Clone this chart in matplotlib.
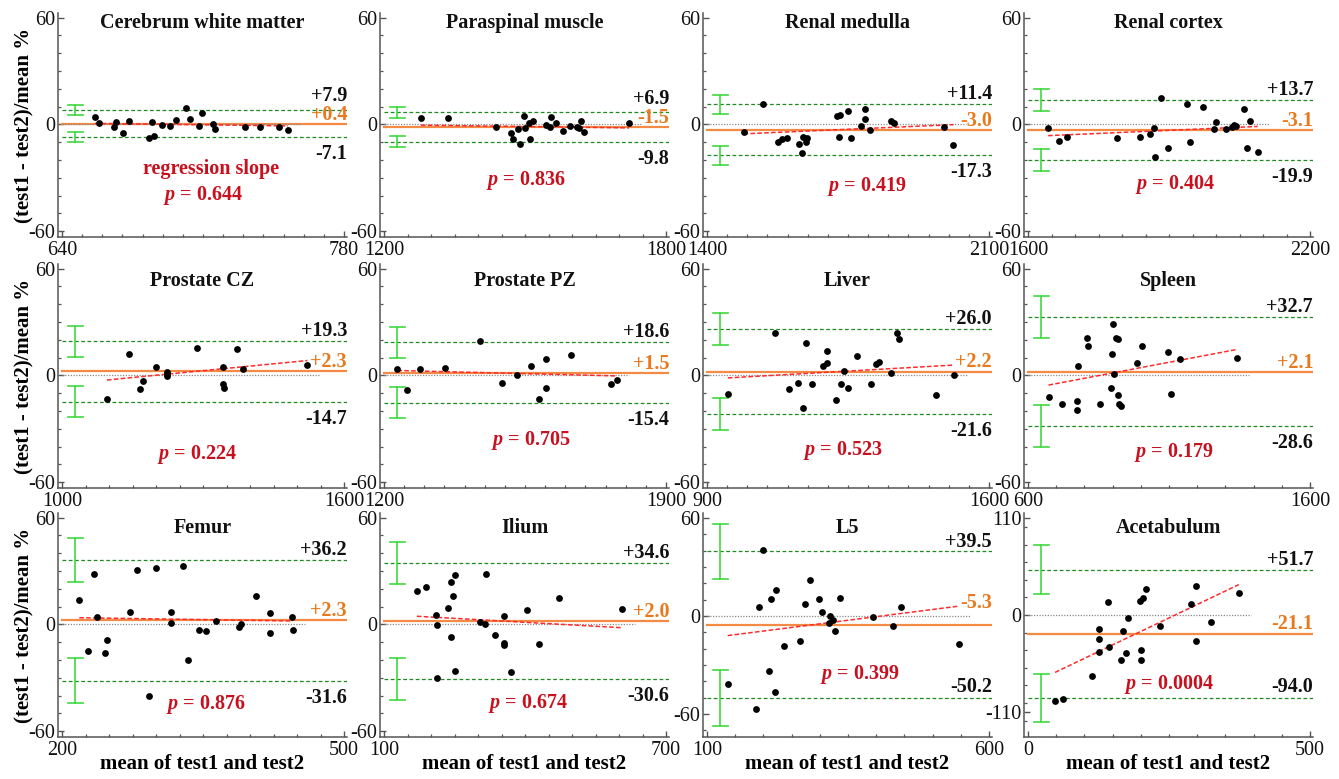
import numpy as np
import matplotlib
matplotlib.use("Agg")
import matplotlib.pyplot as plt
from matplotlib.transforms import blended_transform_factory
from matplotlib.ticker import FixedLocator, MultipleLocator

plt.rcParams['font.family'] = ['Liberation Serif', 'DejaVu Serif']
plt.rcParams['mathtext.fontset'] = 'custom'
plt.rcParams['mathtext.it'] = 'Liberation Serif:italic:bold'
plt.rcParams['mathtext.rm'] = 'Liberation Serif:bold'
plt.rcParams['mathtext.bf'] = 'Liberation Serif:bold'
plt.rcParams['axes.unicode_minus'] = False

# ---------------- data ----------------
titles = ["Cerebrum white matter", "Paraspinal muscle", "Renal medulla", "Renal cortex",
          "Prostate CZ", "Prostate PZ", "Liver", "Spleen",
          "Femur", "Ilium", "L5", "Acetabulum"]
x_ranges = [(640, 780), (1200, 1800), (1400, 2100), (1600, 2200),
            (1000, 1600), (1200, 1900), (900, 1600), (600, 1600),
            (200, 500), (100, 700), (100, 600), (0, 500)]
x_minor_step = [10, 50, 50, 50, 50, 50, 50, 100, 25, 50, 50, 50]
y_major = [60, 60, 60, 60, 60, 60, 60, 60, 60, 60, 60, 110]
y_minor_step = [10] * 11 + [20]
upper_loa = [7.9, 6.9, 11.4, 13.7, 19.3, 18.6, 26.0, 32.7, 36.2, 34.6, 39.5, 51.7]
bias = [0.4, -1.5, -3.0, -3.1, 2.3, 1.5, 2.2, 2.1, 2.3, 2.0, -5.3, -21.1]
lower_loa = [-7.1, -9.8, -17.3, -19.9, -14.7, -15.4, -21.6, -28.6, -31.6, -30.6, -50.2, -94.0]
ci_half = [2.8, 3.1, 5.4, 6.3, 8.7, 8.8, 8.9, 11.7, 12.6, 12.0, 17.0, 27.5]
p_values = ["0.644", "0.836", "0.419", "0.404", "0.224", "0.705", "0.523", "0.179",
            "0.876", "0.674", "0.399", "0.0004"]

cerebrum_x = [656.3, 658.5, 666.0, 666.8, 670.5, 673.2, 683.0, 684.8, 685.7, 689.7, 693.5,
              696.8, 701.5, 703.5, 708.2, 709.3, 715.2, 716.0, 731.0, 738.5, 747.7, 752.2]
cerebrum_y = [4.4, 1.0, -1.6, 1.4, -5.0, 2.2, -7.8, 1.4, -6.5, -0.1, -0.85,
              2.5, 9.5, 3.1, -0.85, 6.3, 0.3, -2.5, -1.5, -1.5, -1.6, -3.1]

paraspinal_x = [1278.6, 1337.1, 1437.9, 1470.0, 1474.3, 1484.3, 1489.3, 1497.9, 1500.0, 1508.6,
                1510.7, 1516.4, 1544.3, 1553.6, 1555.7, 1565.7, 1580.7, 1596.5, 1610.7, 1615.7,
                1620.0, 1625.0, 1721.4]
paraspinal_y = [3.5, 3.5, -1.2, -5.0, -8.2, -2.7, -11.0, 4.8, -2.2, 0.7,
                -8.0, 2.2, -0.5, -1.2, 4.0, 0.9, -3.9, -0.7, -1.2, -1.8,
                2.2, -4.4, 0.7]

medulla_x = [1490.8, 1539.2, 1575.8, 1585.0, 1597.5, 1629.2, 1635.0, 1639.2, 1645.0, 1647.5,
             1722.5, 1730.8, 1728.3, 1750.8, 1757.5, 1782.5, 1793.3, 1793.3, 1805.8, 1855.8,
             1863.3, 1988.3, 2011.7]
medulla_y = [-4.4, 11.4, -9.7, -8.4, -7.8, -11.2, -15.9, -7.2, -9.7, -7.8,
             4.8, 5.4, -7.2, 7.8, -7.4, -0.85, 8.55, 3.1, -3.1, 2.0,
             1.0, -1.4, -11.5]

cortex_x = [1642.9, 1665.7, 1682.9, 1788.6, 1837.9, 1858.6, 1867.9, 1869.3, 1882.2, 1897.9,
            1937.9, 1945.7, 1971.4, 1995.0, 2000.0, 2021.5, 2033.6, 2037.9, 2041.5, 2058.6,
            2066.4, 2071.4, 2088.6]
cortex_y = [-2.2, -9.5, -7.0, -7.8, -6.9, -5.4, -1.8, -18.1, 14.6, -13.4,
            11.4, -10.0, 9.7, -2.5, 1.2, -2.5, -1.4, -0.1, -0.85, 8.55,
            -13.0, 2.2, -15.3]

cz_x = [1095.7, 1143.6, 1166.4, 1172.1, 1200.7, 1224.3, 1224.3, 1224.3, 1286.4, 1343.6,
        1343.6, 1345.0, 1372.9, 1385.0, 1522.2]
cz_y = [-13.4, 11.9, -7.8, -2.9, 5.0, 2.2, 0.85, -0.5, 15.3, 5.0,
        -4.8, -7.0, 14.9, 3.85, 5.9]

pz_x = [1233.3, 1256.7, 1289.2, 1352.5, 1437.5, 1493.3, 1529.2, 1565.0, 1585.0, 1601.7,
        1602.5, 1665.0, 1764.2, 1778.3]
pz_y = [3.7, -8.2, 3.5, 4.0, 19.1, -4.0, 0.0, 5.5, -13.4, -6.9,
        9.5, 11.7, -5.0, -2.5]

liver_x = [951.7, 1068.3, 1104.2, 1126.7, 1137.5, 1145.0, 1160.0, 1187.5, 1197.5, 1197.5,
           1220.8, 1232.5, 1239.2, 1249.2, 1272.5, 1307.5, 1320.0, 1326.7, 1357.5, 1371.7,
           1375.8, 1467.5, 1514.2]
liver_y = [-10.6, 23.8, -7.4, -4.0, -18.5, 18.1, -4.6, 5.35, 6.7, 13.8,
           -14.0, -5.0, 2.35, -7.2, 10.8, -5.0, 6.3, 7.4, 1.4, 23.8,
           20.75, -11.0, 0.0]

spleen_x = [672.8, 721.1, 772.9, 772.9, 776.4, 810.5, 812.9, 855.2, 894.0, 897.6,
            900.0, 905.8, 911.7, 917.6, 917.6, 923.5, 929.3, 985.8, 1005.8, 1096.4,
            1105.8, 1138.8, 1342.4]
spleen_y = [-11.9, -16.1, -14.2, -19.6, 5.5, 21.1, 16.6, -16.1, -7.2, 12.1,
            29.0, 0.85, 21.1, 20.75, -11.2, -16.1, -17.2, 6.7, 16.4, 13.4,
            -10.6, 9.5, 10.0]

femur_x = [218.4, 227.7, 233.7, 237.6, 245.8, 247.9, 272.7, 279.8, 292.3, 300.4,
           316.4, 316.4, 328.5, 334.2, 345.9, 353.3, 363.6, 388.8, 389.9, 405.9,
           421.1, 421.1, 444.9, 445.3]
femur_y = [13.6, -14.9, 28.5, 4.2, -15.9, -8.9, 6.9, 30.7, -40.3, 31.6,
           6.9, 0.66, 32.6, -19.8, -3.1, -3.7, 2.0, -1.2, 0.1, 16.2,
           6.5, -4.6, 4.4, -3.1]

ilium_x = [170.0, 190.0, 210.0, 212.1, 212.9, 237.2, 243.6, 243.6, 247.2, 250.7,
           250.7, 303.6, 314.3, 317.9, 336.4, 354.3, 355.7, 355.7, 370.0, 403.6,
           430.0, 472.9, 607.2]
ilium_y = [19.0, 21.2, 5.3, -0.6, -30.0, 9.2, -6.9, 24.0, 15.8, 27.8,
           -26.1, 1.3, 0.0, 28.2, -6.0, -11.3, 4.7, -10.7, -27.0, 8.3,
           -10.9, 14.6, 8.6]

l5_x = [136.7, 187.6, 192.3, 198.8, 210.0, 214.2, 220.7, 222.5, 236.1, 265.7,
        274.5, 283.4, 298.2, 304.1, 316.0, 318.9, 323.7, 326.6, 335.5, 394.1,
        429.6, 443.2, 546.7]
l5_y = [-41.8, -57.2, 5.5, 40.2, -33.9, 10.6, -46.5, 16.1, -18.2, -15.1,
        7.6, 22.2, 10.4, 2.2, -4.3, 0.0, -2.4, -9.4, 11.2, -0.4,
        -5.9, 5.3, -16.9]

acet_x = [48.0, 62.4, 113.4, 126.0, 126.0, 126.0, 141.0, 144.0, 165.0, 169.2,
          174.0, 177.0, 198.0, 201.0, 201.0, 204.0, 210.0, 234.0, 289.2, 297.0,
          297.0, 324.0, 373.8]
acet_y = [-97.7, -95.1, -69.3, -16.3, -27.3, -41.7, 15.2, -36.0, -51.5, -18.6,
          -43.2, -3.8, 16.3, -39.8, -50.8, 19.3, 29.9, -12.1, 12.5, -29.9,
          32.6, -8.0, 25.0]

points_x = [cerebrum_x, paraspinal_x, medulla_x, cortex_x, cz_x, pz_x, liver_x, spleen_x,
            femur_x, ilium_x, l5_x, acet_x]
points_y = [cerebrum_y, paraspinal_y, medulla_y, cortex_y, cz_y, pz_y, liver_y, spleen_y,
            femur_y, ilium_y, l5_y, acet_y]

# ---------------- layout / style ----------------
W, H = 1339, 779
col_left_px = [58, 380, 703, 1024]
row_bottom_px = [237.2, 488.2, 737.2]
ax_w_px, ax_h_px = 289, 224.5
y_lims = [(-63.4, 62.8)] * 10 + [(-74.2, 63.2), (-138.9, 116.3)]
title_y = [0.9305, 0.9007, 0.908]
p_pos = [(0.502, 0.166), (0.503, 0.232), (0.567, 0.207), (0.524, 0.213),
         (0.480, 0.130), (0.522, 0.193), (0.485, 0.148), (0.517, 0.138),
         (0.513, 0.126), (0.513, 0.129), (0.542, 0.259), (0.500, 0.215)]
bias_label_offset = [3] * 10 + [12, 3]
lower_label_above = [False] * 10 + [True, True]

C_GREEN = "#1f8a1f"
C_LGREEN = "#3fd83f"
C_ORANGE_LINE = "#f58a45"
C_ORANGE_TXT = "#e8791c"
C_RED_LINE = "#ff2a2a"
C_RED_TXT = "#c8101e"
C_AXIS = "#555555"
FS = 14.5

fig = plt.figure(figsize=(W / 100, H / 100), dpi=100)

for i in range(12):
    r, c = divmod(i, 4)
    ax = fig.add_axes([col_left_px[c] / W, 1 - row_bottom_px[r] / H, ax_w_px / W, ax_h_px / H])
    x0, x1 = x_ranges[i]
    R = x1 - x0
    xl = (x0 - 4 / 282 * R, x1 + 3 / 282 * R)
    ax.set_xlim(*xl)
    ax.set_ylim(*y_lims[i])
    blend = blended_transform_factory(ax.transAxes, ax.transData)

    for s in ["top", "right"]:
        ax.spines[s].set_visible(False)
    for s in ["left", "bottom"]:
        ax.spines[s].set_color(C_AXIS)
        ax.spines[s].set_linewidth(1.1)

    ax.xaxis.set_major_locator(FixedLocator([x0, x1]))
    ax.xaxis.set_minor_locator(MultipleLocator(x_minor_step[i]))
    M = y_major[i]
    ax.yaxis.set_major_locator(FixedLocator([-M, 0, M]))
    ax.yaxis.set_minor_locator(MultipleLocator(y_minor_step[i]))
    ax.set_xticklabels([str(x0), str(x1)])
    ax.set_yticklabels([str(-M), "0", str(M)])
    ax.tick_params(which="both", direction="in", color=C_AXIS, labelsize=FS, labelcolor="#111111")
    ax.tick_params(which="major", length=4, width=1.0)
    ax.tick_params(which="minor", length=2.5, width=0.9)
    ax.tick_params(axis="y", pad=2)
    ax.tick_params(axis="x", pad=3)

    xs = np.array(points_x[i])
    ys = np.array(points_y[i])

    # limits of agreement and mean
    ax.plot([x0, xl[1]], [upper_loa[i]] * 2, ls=(0, (3, 2)), color=C_GREEN, lw=0.9, zorder=2)
    ax.plot([x0, xl[1]], [lower_loa[i]] * 2, ls=(0, (3, 2)), color=C_GREEN, lw=0.9, zorder=2)
    ax.plot([x0, xl[1]], [bias[i]] * 2, ls="-", color=C_ORANGE_LINE, lw=1.6, zorder=2)
    ax.plot([x0, xs.max() + 0.043 * R], [0, 0], ls=(0, (1, 1.2)), color="#8a8a8a", lw=0.9, zorder=2.5)

    # CI error bars
    ex, cw = 0.06, 0.026
    for v in (upper_loa[i], lower_loa[i]):
        lo, hi = v - ci_half[i], v + ci_half[i]
        ax.plot([ex, ex], [lo, hi], color=C_LGREEN, lw=1.2, transform=blend, clip_on=False)
        ax.plot([ex - cw, ex + cw], [lo, lo], color=C_LGREEN, lw=1.2, transform=blend, clip_on=False)
        ax.plot([ex - cw, ex + cw], [hi, hi], color=C_LGREEN, lw=1.2, transform=blend, clip_on=False)

    # regression line
    k, b = np.polyfit(xs, ys, 1)
    xr = np.array([xs.min(), xs.max()])
    ax.plot(xr, k * xr + b, ls=(0, (3, 1.5)), color=C_RED_LINE, lw=1.1, zorder=3)

    ax.scatter(xs, ys, s=24, color="black", zorder=4, linewidths=0)

    # value labels
    def to_pt(v):
        return ax.transData.transform((0, v))[1] * 0.72
    bias_off = bias_label_offset[i]
    ax.annotate(f"{bias[i]:+.1f}", xy=(1.0, bias[i]), xycoords=blend, xytext=(0, bias_off),
                textcoords="offset points", ha="right", va="baseline", fontsize=FS,
                fontweight="bold", color=C_ORANGE_TXT)
    up_off = max(3.5, to_pt(bias[i]) + bias_off + 10.5 + 3.0 - to_pt(upper_loa[i]))
    ax.annotate(f"{upper_loa[i]:+.1f}", xy=(1.0, upper_loa[i]), xycoords=blend, xytext=(0, up_off),
                textcoords="offset points", ha="right", va="baseline", fontsize=FS,
                fontweight="bold", color="#111111")
    if lower_label_above[i]:
        ax.annotate(f"{lower_loa[i]:.1f}", xy=(1.0, lower_loa[i]), xycoords=blend, xytext=(0, 4),
                    textcoords="offset points", ha="right", va="baseline", fontsize=FS,
                    fontweight="bold", color="#111111")
    else:
        ax.annotate(f"{lower_loa[i]:.1f}", xy=(1.0, lower_loa[i]), xycoords=blend, xytext=(0, -5),
                    textcoords="offset points", ha="right", va="top", fontsize=FS,
                    fontweight="bold", color="#111111")

    # p value text
    px, py = p_pos[i]
    ax.text(px, py, r"$p$ = " + p_values[i], transform=ax.transAxes, ha="center", va="baseline",
            fontsize=FS, fontweight="bold", color=C_RED_TXT)
    if i == 0:
        ax.text(0.53, 0.282, "regression slope", transform=ax.transAxes, ha="center", va="baseline",
                fontsize=FS, fontweight="bold", color=C_RED_TXT)

    ax.text(0.5, title_y[r], titles[i], transform=ax.transAxes, ha="center", va="baseline",
            fontsize=FS, fontweight="bold", color="#111111")

    if c == 0:
        ax.set_ylabel("(test1 - test2)/mean %", fontsize=15, fontweight="bold", labelpad=-4.5)
    if r == 2:
        ax.set_xlabel("mean of test1 and test2", fontsize=15, fontweight="bold", labelpad=-4.5)

fig.savefig("out.png", dpi=100)
